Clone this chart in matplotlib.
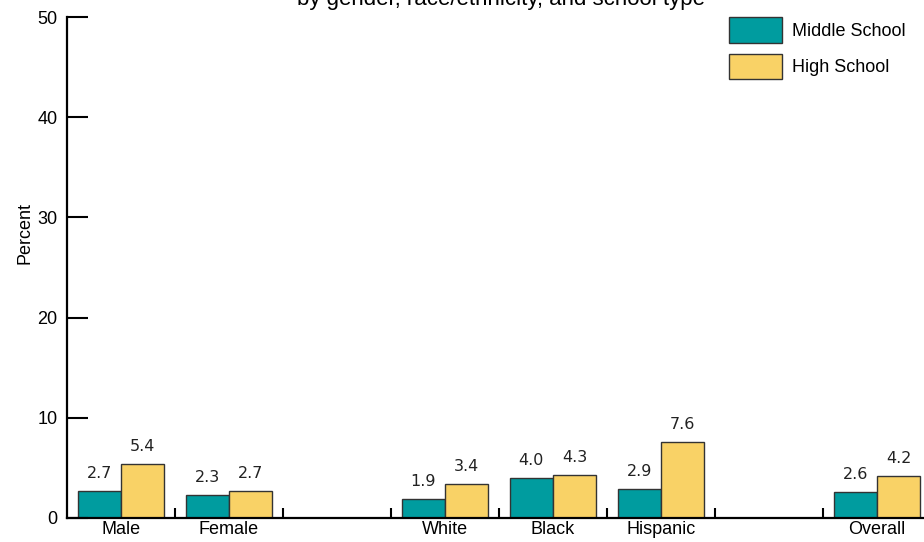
import numpy as np
import matplotlib
matplotlib.use("Agg")
from matplotlib import pyplot as plt

plt.rcParams['font.family'] = ['Liberation Sans', 'DejaVu Sans']

# slots on the x axis, blank slots are spacers between groups
categories = ['Male', 'Female', '', 'White', 'Black', 'Hispanic', '', 'Overall']
middle_school = [2.7, 2.3, None, 1.9, 4.0, 2.9, None, 2.6]
high_school = [5.4, 2.7, None, 3.4, 4.3, 7.6, None, 4.2]
series_names = ['Middle School', 'High School']
yticks = [0, 10, 20, 30, 40, 50]

teal = '#009c9f'
yellow = '#f9d266'
edge = '#333333'

fig = plt.figure(figsize=(9.24, 5.42), dpi=100)
ax = fig.add_axes([67/924, 24/542, (924-67)/924, (518-17)/542])

w = 0.4
idx = [i for i, v in enumerate(middle_school) if v is not None]
xs = np.array(idx) + 0.5
ms = [middle_school[i] for i in idx]
hs = [high_school[i] for i in idx]
b1 = ax.bar(xs - w/2, ms, w, color=teal, edgecolor=edge, linewidth=1, label=series_names[0])
b2 = ax.bar(xs + w/2, hs, w, color=yellow, edgecolor=edge, linewidth=1, label=series_names[1])

for bars in (b1, b2):
    for r in bars:
        ax.annotate('%.1f' % r.get_height(), (r.get_x() + r.get_width()/2, r.get_height()),
                    xytext=(0, 7), textcoords='offset points', ha='center', va='bottom',
                    fontsize=11.5, family=['DejaVu Sans'], color='#222222')

ax.set_xlim(0, (924-67)/108)
ax.set_ylim(0, 50)
ax.set_yticks(yticks)
ax.tick_params(axis='y', direction='in', length=15, width=1.5, labelsize=13, pad=7)

# boundary ticks between slots, labels on slot centers
ax.set_xticks(np.arange(1, len(categories)))
ax.set_xticklabels([])
ax.tick_params(axis='x', which='major', direction='in', length=7, width=1.5)
ax.set_xticks(np.arange(len(categories)) + 0.5, minor=True)
ax.set_xticklabels(categories, minor=True)
ax.tick_params(axis='x', which='minor', length=0, labelsize=13, pad=2)

for s in ['top', 'right']:
    ax.spines[s].set_visible(False)
for s in ['left', 'bottom']:
    ax.spines[s].set_linewidth(1.6)
ax.set_ylabel('Percent', fontsize=13)
ax.yaxis.set_label_coords((34-67)/857, (518-233)/501)

ax.legend(loc='upper left', bbox_to_anchor=((729-67)/857, 1.0), frameon=False,
          fontsize=13, handlelength=2.95, handleheight=1.8, labelspacing=0.62,
          handletextpad=0.55, borderaxespad=0, borderpad=0)

fig.text(0.542, 1 - 5/542, 'by gender, race/ethnicity, and school type',
         ha='center', va='baseline', fontsize=16)

fig.savefig('out.png', dpi=100)
